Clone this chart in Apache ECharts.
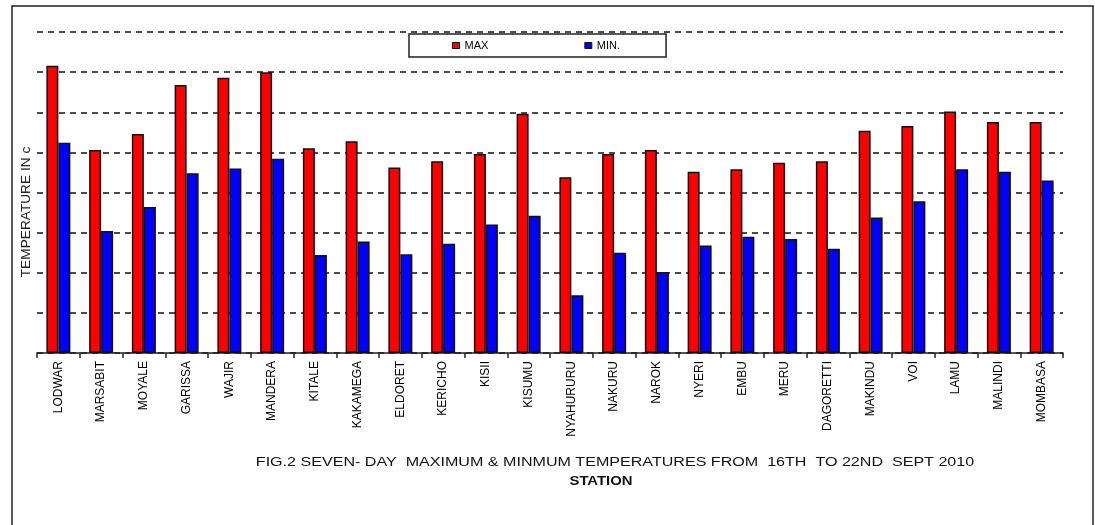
<!DOCTYPE html>
<html>
<head>
<meta charset="utf-8">
<script src="https://cdn.jsdelivr.net/npm/echarts@6/dist/echarts.min.js"></script>
<style>
  html, body { margin: 0; padding: 0; background: #fff; }
  #chart { width: 1095px; height: 525px; }
</style>
</head>
<body>
<div id="chart"></div>
<script>
// Weather stations along the horizontal axis
const stations = ['LODWAR', 'MARSABIT', 'MOYALE', 'GARISSA', 'WAJIR', 'MANDERA', 'KITALE', 'KAKAMEGA',
  'ELDORET', 'KERICHO', 'KISII', 'KISUMU', 'NYAHURURU', 'NAKURU', 'NAROK', 'NYERI', 'EMBU', 'MERU',
  'DAGORETTI', 'MAKINDU', 'VOI', 'LAMU', 'MALINDI', 'MOMBASA'];

// Seven-day mean maximum temperatures (°C)
const maxTemps = [35.8, 25.3, 27.3, 33.4, 34.3, 35.0, 25.5, 26.4, 23.1, 23.9, 24.8, 29.8,
  21.9, 24.8, 25.3, 22.6, 22.9, 23.7, 23.9, 27.7, 28.3, 30.1, 28.8, 28.8];

// Seven-day mean minimum temperatures (°C)
const minTemps = [26.2, 15.2, 18.2, 22.4, 23.0, 24.2, 12.2, 13.9, 12.3, 13.6, 16.0, 17.1,
  7.2, 12.5, 10.1, 13.4, 14.5, 14.2, 13.0, 16.9, 18.9, 22.9, 22.6, 21.5];

const seriesNames = ['MAX', 'MIN.'];
const figCaption = 'FIG.2 SEVEN- DAY  MAXIMUM & MINMUM TEMPERATURES FROM  16TH  TO 22ND  SEPT 2010';
const xTitle = 'STATION';
const yTitle = 'TEMPERATURE IN c';

const FONT = '"Liberation Sans", Arial, sans-serif';
const chart = echarts.init(document.getElementById('chart'), null, { renderer: 'canvas' });

const barBorder = { borderColor: '#111', borderWidth: 1.5 };

chart.setOption({
  animation: false,
  backgroundColor: '#fff',
  textStyle: { fontFamily: FONT },
  grid: { left: 37, right: 32, top: 32, bottom: 172, containLabel: false },
  legend: {
    left: 409,
    top: 34,
    orient: 'horizontal',
    padding: [6, 46, 6, 43],
    itemGap: 96,
    itemWidth: 7,
    itemHeight: 6,
    icon: 'rect',
    borderColor: '#222',
    borderWidth: 1.5,
    backgroundColor: '#fff',
    textStyle: { fontFamily: FONT, fontSize: 11, color: '#000' },
    itemStyle: { borderColor: '#111', borderWidth: 1 },
    data: seriesNames
  },
  xAxis: {
    type: 'category',
    data: stations,
    axisLine: { show: true, lineStyle: { color: '#222', width: 1.5 } },
    axisTick: { show: true, alignWithLabel: false, length: 5, lineStyle: { color: '#222', width: 1.5 } },
    axisLabel: {
      interval: 0,
      rotate: 90,
      margin: 8,
      fontFamily: FONT,
      fontSize: 12,
      color: '#000'
    }
  },
  yAxis: {
    type: 'value',
    min: 0,
    max: 40,
    interval: 5,
    axisLine: { show: false },
    axisTick: { show: false },
    axisLabel: { show: false },
    splitLine: { show: true, lineStyle: { color: '#111', width: 1.5, type: [6, 5] } }
  },
  series: [
    {
      name: seriesNames[0],
      type: 'bar',
      data: maxTemps,
      barWidth: 12,
      barGap: '0%',
      itemStyle: Object.assign({ color: '#ff0000' }, barBorder)
    },
    {
      name: seriesNames[1],
      type: 'bar',
      data: minTemps,
      barWidth: 12,
      barGap: '0%',
      itemStyle: Object.assign({ color: '#0000ff' }, barBorder)
    }
  ],
  graphic: [
    {
      type: 'rect',
      silent: true,
      shape: { x: 12, y: 6, width: 1081, height: 540 },
      style: { fill: 'none', stroke: '#222', lineWidth: 1.5 }
    },
    {
      // vertical axis title, drawn slightly widened along its reading direction
      type: 'text',
      silent: true,
      x: 27,
      y: 212,
      rotation: Math.PI / 2,
      scaleX: 1.14,
      style: {
        text: yTitle,
        fontFamily: FONT,
        fontSize: 12,
        fill: '#222',
        align: 'center',
        verticalAlign: 'middle'
      }
    },
    {
      type: 'text',
      silent: true,
      x: 615,
      y: 463,
      scaleX: 1.34,
      style: {
        text: figCaption,
        fontFamily: FONT,
        fontSize: 12,
        fill: '#111',
        align: 'center',
        verticalAlign: 'middle'
      }
    },
    {
      type: 'text',
      silent: true,
      x: 601,
      y: 482,
      scaleX: 1.24,
      style: {
        text: xTitle,
        fontFamily: FONT,
        fontSize: 12,
        fontWeight: 'bold',
        fill: '#111',
        align: 'center',
        verticalAlign: 'middle'
      }
    }
  ]
});
</script>
</body>
</html>
